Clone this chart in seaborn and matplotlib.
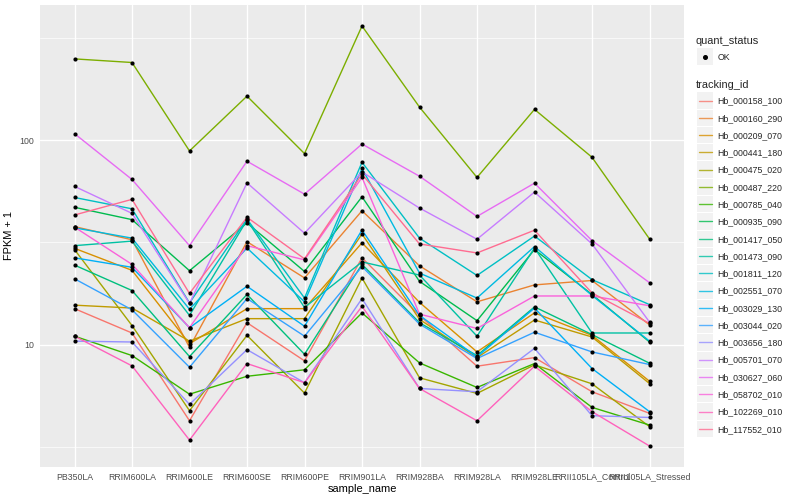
import numpy as np
import pandas as pd
import matplotlib
matplotlib.use("Agg")
from matplotlib import pyplot as plt
from matplotlib.patches import Rectangle
from matplotlib.lines import Line2D
import seaborn as sns

### data (FPKM + 1) ###
samples = ["PB350LA", "RRIM600LA", "RRIM600LE", "RRIM600SE", "RRIM600PE", "RRIM901LA",
           "RRIM928BA", "RRIM928LA", "RRIM928LE", "RRII105LA_Control", "RRII105LA_Stressed"]

hb_000158_100 = [15.0, 11.4, 4.24, 12.8, 8.33, 26.6, 13.9, 7.84, 8.64, 5.88, 4.61]
hb_000160_290 = [37.8, 32.6, 9.70, 31.9, 21.2, 45.2, 24.3, 16.2, 19.6, 20.6, 12.5]
hb_000209_070 = [29.6, 23.1, 10.1, 15.0, 15.0, 31.5, 16.1, 9.21, 14.3, 11.1, 6.62]
hb_000441_180 = [15.6, 15.1, 10.4, 13.4, 13.4, 34.8, 13.3, 8.64, 13.2, 10.9, 6.45]
hb_000475_020 = [29.2, 12.4, 4.75, 11.1, 5.79, 21.2, 6.88, 5.77, 7.96, 6.43, 3.97]
hb_000487_220 = [250.3, 240.3, 88.7, 164.5, 86.1, 362.6, 145.4, 65.8, 141.7, 82.6, 32.9]
hb_000785_040 = [11.0, 8.84, 5.72, 7.00, 7.53, 14.3, 8.14, 6.17, 8.08, 4.93, 4.04]
hb_000935_090 = [47.0, 40.9, 23.0, 39.4, 22.8, 52.9, 20.4, 13.1, 29.2, 17.6, 10.3]
hb_001417_050 = [24.5, 18.4, 8.74, 17.6, 8.97, 24.7, 12.8, 8.84, 15.3, 11.2, 8.11]
hb_001473_090 = [30.5, 32.1, 13.9, 40.7, 15.2, 25.4, 21.9, 11.0, 29.7, 11.4, 11.4]
hb_001811_120 = [52.5, 46.2, 16.0, 41.2, 16.9, 78.1, 33.2, 21.8, 34.0, 20.8, 15.7]
hb_002551_070 = [37.3, 33.2, 14.9, 29.7, 16.2, 72.8, 22.4, 16.9, 30.2, 17.4, 10.4]
hb_003029_130 = [26.6, 23.9, 12.1, 19.3, 12.3, 36.4, 13.9, 8.71, 15.1, 7.64, 4.70]
hb_003044_020 = [21.0, 14.8, 7.75, 16.8, 11.0, 24.1, 12.6, 8.55, 11.5, 9.21, 7.99]
hb_003656_180 = [10.4, 10.3, 5.10, 9.45, 6.51, 16.8, 6.10, 5.88, 9.59, 4.49, 4.40]
hb_005701_070 = [59.5, 43.9, 15.9, 61.9, 35.1, 70.0, 46.6, 32.8, 55.8, 31.1, 12.9]
hb_030627_060 = [107.8, 64.3, 30.5, 79.0, 54.5, 95.9, 66.7, 42.4, 61.7, 32.3, 20.1]
hb_058702_010 = [37.6, 24.7, 12.1, 30.5, 26.0, 65.8, 14.1, 12.0, 17.3, 17.3, 15.5]
hb_102269_010 = [11.0, 7.87, 3.41, 8.08, 6.51, 15.4, 6.10, 4.24, 7.84, 4.70, 3.19]
hb_117552_010 = [43.1, 51.4, 17.8, 42.0, 26.3, 68.3, 31.1, 28.1, 36.3, 17.9, 12.7]

tracking_ids = ["Hb_000158_100", "Hb_000160_290", "Hb_000209_070", "Hb_000441_180",
                "Hb_000475_020", "Hb_000487_220", "Hb_000785_040", "Hb_000935_090",
                "Hb_001417_050", "Hb_001473_090", "Hb_001811_120", "Hb_002551_070",
                "Hb_003029_130", "Hb_003044_020", "Hb_003656_180", "Hb_005701_070",
                "Hb_030627_060", "Hb_058702_010", "Hb_102269_010", "Hb_117552_010"]
series = [hb_000158_100, hb_000160_290, hb_000209_070, hb_000441_180, hb_000475_020,
          hb_000487_220, hb_000785_040, hb_000935_090, hb_001417_050, hb_001473_090,
          hb_001811_120, hb_002551_070, hb_003029_130, hb_003044_020, hb_003656_180,
          hb_005701_070, hb_030627_060, hb_058702_010, hb_102269_010, hb_117552_010]

# ggplot2 default hue palette for 20 levels
colors = ["#F8766D", "#EA8331", "#D89000", "#C09B00", "#A3A500", "#7CAE00", "#39B600",
          "#00BB4E", "#00BF7D", "#00C1A3", "#00BFC4", "#00BAE0", "#00B0F6", "#35A2FF",
          "#9590FF", "#C77CFF", "#E76BF3", "#FA62DB", "#FF62BC", "#FF6C91"]

rows = []
for tid, vals in zip(tracking_ids, series):
    for i, v in enumerate(vals):
        rows.append({"tracking_id": tid, "pos": i, "sample_name": samples[i], "fpkm": v})
df = pd.DataFrame(rows)

### figure ###
sns.set_style("white")
plt.rcParams["font.family"] = ["Liberation Sans", "DejaVu Sans"]

fig = plt.figure(figsize=(8, 5), dpi=100)
ax = fig.add_axes([40 / 800, 1 - 467 / 500, 644 / 800, 462 / 500])
ax.set_facecolor("#EBEBEB")

sns.lineplot(data=df, x="pos", y="fpkm", hue="tracking_id", hue_order=tracking_ids,
             palette=colors, estimator=None, errorbar=None, linewidth=1.0,
             legend=False, ax=ax)
sns.scatterplot(data=df, x="pos", y="fpkm", color="black", s=9, linewidth=0,
                legend=False, ax=ax, zorder=3)

ax.set_yscale("log")
lo, hi = np.log10(df["fpkm"].min()), np.log10(df["fpkm"].max())
pad = 0.05 * (hi - lo)
ax.set_ylim(10 ** (lo - pad), 10 ** (hi + pad))
ax.set_xlim(-0.6, len(samples) - 0.4)

ax.set_yticks([10, 100], ["10", "100"])
ax.set_yticks([10 ** 0.5, 10 ** 1.5, 10 ** 2.5], minor=True)
ax.set_yticklabels([], minor=True)
ax.set_xticks(range(len(samples)), samples)

ax.grid(which="major", color="white", linewidth=1.0)
ax.grid(which="minor", axis="y", color="white", linewidth=0.5)
ax.set_axisbelow(True)
for s in ax.spines.values():
    s.set_visible(False)

ax.tick_params(which="major", length=2, width=0.8, color="#333333", labelcolor="#4D4D4D",
               labelsize=6.3, pad=2)
ax.tick_params(which="minor", length=0)
ax.set_xlabel("sample_name", fontsize=7.9, color="black", labelpad=2)
ax.set_ylabel("FPKM + 1", fontsize=7.9, color="black", labelpad=4)

### legends, drawn in pixel space ###
leg = fig.add_axes([0, 0, 1, 1], facecolor="none")
leg.set_xlim(0, 800)
leg.set_ylim(500, 0)
leg.axis("off")

key = 17.28
kx = 697
leg.text(kx - 1, 41, "quant_status", fontsize=7.9, va="center", ha="left")
leg.add_patch(Rectangle((kx, 57 - key / 2), key - 1, key - 1, facecolor="#F2F2F2",
                        edgecolor="none"))
leg.plot([kx + key / 2 - 0.5], [57 - 0.5], "o", color="black", markersize=2.6)
leg.text(kx + key + 3, 57, "OK", fontsize=6.3, va="center", ha="left")

leg.text(kx - 1, 85, "tracking_id", fontsize=7.9, va="center", ha="left")
for i, (tid, c) in enumerate(zip(tracking_ids, colors)):
    cy = 101 + key * i
    leg.add_patch(Rectangle((kx, cy - key / 2), key - 1, key - 1, facecolor="#F2F2F2",
                            edgecolor="none"))
    leg.add_line(Line2D([kx + 1.5, kx + key - 2.5], [cy - 0.5, cy - 0.5], color=c,
                        linewidth=1.0, alpha=0.8))
    leg.text(kx + key + 3, cy, tid, fontsize=6.3, va="center", ha="left")

fig.savefig("out.png", dpi=100)
